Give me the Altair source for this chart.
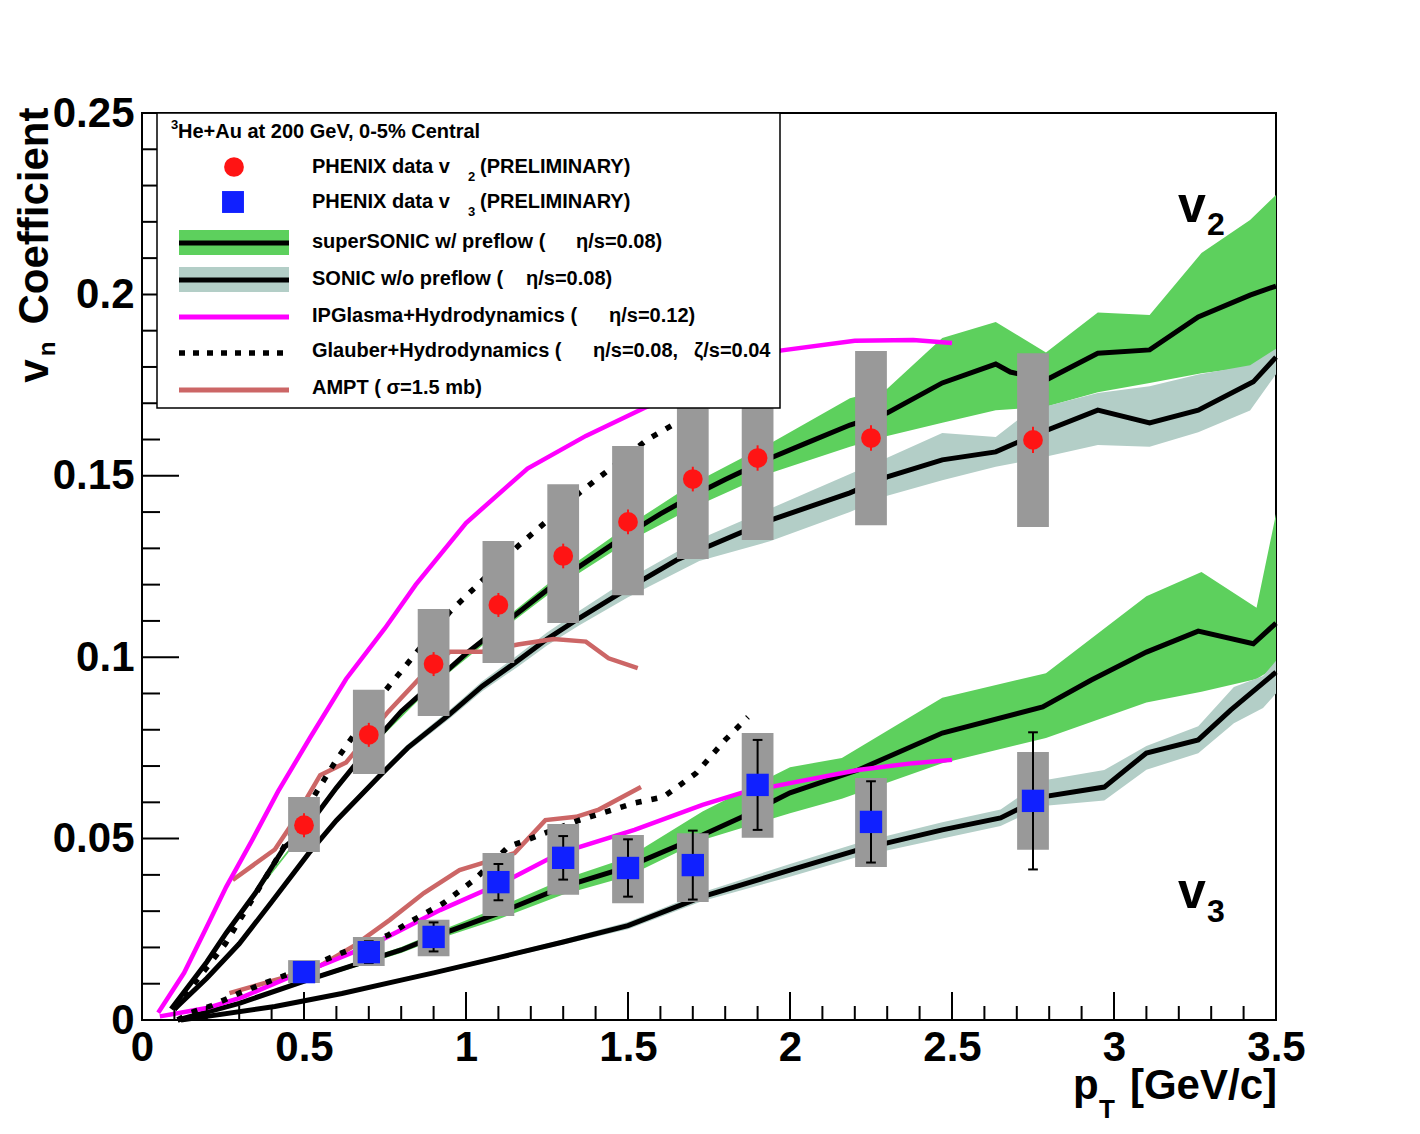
import altair as alt
import pandas as pd

# ---------------- data ----------------
pt_data = [0.5, 0.7, 0.9, 1.1, 1.3, 1.5, 1.7, 1.9, 2.25, 2.75]

v2_val = [0.0537, 0.0786, 0.0981, 0.1144, 0.1279, 0.1373, 0.1491, 0.1549, 0.1604, 0.1599]
v2_stat = [0.0033, 0.0033, 0.0033, 0.0033, 0.0034, 0.0034, 0.0034, 0.0035, 0.0035, 0.0036]
v2_sys_lo = [0.0463, 0.0678, 0.0838, 0.0984, 0.1094, 0.1171, 0.1271, 0.1323, 0.1364, 0.1359]
v2_sys_hi = [0.0615, 0.0910, 0.1133, 0.1320, 0.1477, 0.1582, 0.1710, 0.1775, 0.1844, 0.1838]

v3_val = [0.0132, 0.0187, 0.0229, 0.0380, 0.0447, 0.0419, 0.0427, 0.0648, 0.0546, 0.0604]
v3_stat = [0.0020, 0.0030, 0.0040, 0.0050, 0.0060, 0.0079, 0.0095, 0.0124, 0.0112, 0.0189]
v3_sys_lo = [0.0102, 0.0149, 0.0176, 0.0287, 0.0345, 0.0322, 0.0325, 0.0502, 0.0422, 0.0469]
v3_sys_hi = [0.0165, 0.0229, 0.0276, 0.0460, 0.0540, 0.0510, 0.0515, 0.0791, 0.0667, 0.0739]

# superSONIC w/ preflow, v2
ss2_pt = [0.09, 0.2, 0.26, 0.35, 0.44, 0.5, 0.6, 0.7, 0.8, 0.9, 1.0, 1.1, 1.2, 1.3, 1.4, 1.5,
          1.6, 1.7, 1.8, 1.94, 2.05, 2.185, 2.3, 2.47, 2.635, 2.68, 2.79, 2.95, 3.11, 3.26, 3.42, 3.5]
ss2_val = [0.003, 0.016, 0.024, 0.035, 0.0477, 0.052, 0.064, 0.075, 0.085, 0.093, 0.101, 0.108,
           0.115, 0.122, 0.128, 0.134, 0.1395, 0.1445, 0.149, 0.1549, 0.159, 0.164, 0.1673, 0.1756,
           0.1808, 0.1786, 0.1764, 0.1838, 0.1847, 0.1938, 0.1998, 0.2023]
ss2_band_pt = [0.09, 0.2, 0.35, 0.5, 0.7, 0.9, 1.1, 1.3, 1.5, 1.7, 1.94, 2.185, 2.3, 2.47, 2.635,
               2.79, 2.95, 3.11, 3.27, 3.42, 3.5]
ss2_hi = [0.003, 0.0163, 0.0354, 0.0524, 0.0755, 0.0937, 0.1092, 0.1236, 0.1362, 0.1478, 0.159,
          0.1714, 0.174, 0.188, 0.1924, 0.184, 0.195, 0.1943, 0.2114, 0.2205, 0.2274]
ss2_lo = [0.003, 0.0157, 0.0346, 0.0516, 0.0745, 0.0923, 0.1068, 0.1204, 0.1318, 0.1412, 0.1508,
          0.158, 0.161, 0.1646, 0.1681, 0.169, 0.173, 0.1756, 0.1783, 0.180, 0.1814]

# SONIC w/o preflow, v2
s2_pt = [0.1, 0.2, 0.3, 0.4, 0.515, 0.6, 0.73, 0.82, 0.95, 1.05, 1.16, 1.25, 1.35, 1.5, 1.65,
         1.72, 1.94, 2.185, 2.3, 2.47, 2.635, 2.74, 2.95, 3.11, 3.26, 3.43, 3.5]
s2_val = [0.003, 0.0115, 0.021, 0.0325, 0.046, 0.055, 0.067, 0.075, 0.0843, 0.092, 0.099, 0.105,
          0.1108, 0.119, 0.1268, 0.1295, 0.1378, 0.1453, 0.1497, 0.1544, 0.1566, 0.1607, 0.1681,
          0.1646, 0.1681, 0.1759, 0.1827]
s2_band_pt = [0.1, 0.2, 0.3, 0.4, 0.515, 0.6, 0.73, 0.82, 0.95, 1.05, 1.16, 1.25, 1.35, 1.5, 1.72,
              1.94, 2.185, 2.3, 2.47, 2.635, 2.74, 2.95, 3.11, 3.26, 3.42, 3.5]
s2_hi = [0.003, 0.0118, 0.0214, 0.033, 0.0466, 0.0557, 0.0679, 0.076, 0.0855, 0.0934, 0.1006,
         0.1068, 0.1128, 0.1215, 0.1325, 0.141, 0.1505, 0.155, 0.1618, 0.1607, 0.168, 0.1728,
         0.1747, 0.1779, 0.1805, 0.1850]
s2_lo = [0.003, 0.0112, 0.0206, 0.032, 0.0454, 0.0543, 0.0661, 0.074, 0.0831, 0.0906, 0.0974,
         0.1032, 0.1088, 0.1165, 0.1265, 0.132, 0.140, 0.1445, 0.1488, 0.1525, 0.1543, 0.1585,
         0.158, 0.162, 0.168, 0.178]

# superSONIC w/ preflow, v3
ss3_pt = [0.11, 0.3, 0.51, 0.8, 0.9, 1.1, 1.3, 1.5, 1.73, 1.85, 2.0, 2.21, 2.47, 2.78, 2.93,
          3.1, 3.26, 3.43, 3.5]
ss3_val = [0.0, 0.0046, 0.011, 0.0193, 0.0229, 0.0294, 0.0367, 0.0422, 0.051, 0.0559, 0.0626,
           0.0689, 0.0791, 0.0863, 0.0937, 0.1014, 0.1072, 0.1037, 0.1094]
ss3_band_pt = [0.11, 0.3, 0.51, 0.8, 0.9, 1.1, 1.3, 1.5, 1.73, 2.0, 2.16, 2.47, 2.79, 3.1, 3.27,
               3.44, 3.5]
ss3_hi = [0.0, 0.0048, 0.0115, 0.0201, 0.0239, 0.031, 0.0388, 0.0448, 0.0575, 0.0697, 0.0722,
          0.0888, 0.0956, 0.1168, 0.1235, 0.1136, 0.1395]
ss3_lo = [0.0, 0.0044, 0.0105, 0.0185, 0.0219, 0.0278, 0.0346, 0.0396, 0.0496, 0.057, 0.061,
          0.0708, 0.0777, 0.0875, 0.0905, 0.094, 0.0973]

# SONIC w/o preflow, v3
s3_pt = [0.12, 0.2, 0.41, 0.617, 0.8, 0.9, 1.1, 1.3, 1.5, 1.73, 2.0, 2.21, 2.47, 2.65, 2.78,
         2.97, 3.1, 3.26, 3.36, 3.5]
s3_val = [0.0, 0.001, 0.0037, 0.0073, 0.011, 0.013, 0.0172, 0.0215, 0.026, 0.034, 0.0413, 0.0469,
          0.0524, 0.0557, 0.0615, 0.0642, 0.0736, 0.0772, 0.0854, 0.0959]
s3_band_pt = [0.12, 0.2, 0.41, 0.617, 0.8, 0.9, 1.1, 1.3, 1.5, 1.73, 2.0, 2.21, 2.47, 2.65, 2.78,
              2.97, 3.1, 3.26, 3.37, 3.46, 3.5]
s3_hi = [0.0, 0.0011, 0.0039, 0.0076, 0.0114, 0.0135, 0.0178, 0.0222, 0.0270, 0.0352, 0.043,
         0.0488, 0.0545, 0.058, 0.066, 0.0689, 0.0755, 0.081, 0.0918, 0.0948, 0.099]
s3_lo = [0.0, 0.0009, 0.0035, 0.0070, 0.0106, 0.0125, 0.0166, 0.0208, 0.0250, 0.0328, 0.0395,
         0.045, 0.050, 0.0535, 0.059, 0.0605, 0.069, 0.0735, 0.0818, 0.086, 0.090]

# IPGlasma + Hydrodynamics
ip2_pt = [0.05, 0.13, 0.2, 0.26, 0.34, 0.42, 0.52, 0.63, 0.75, 0.845, 1.0, 1.19, 1.37, 1.55,
          1.75, 1.97, 2.2, 2.38, 2.5]
ip2_val = [0.002, 0.013, 0.0257, 0.0367, 0.0496, 0.063, 0.078, 0.094, 0.108, 0.12, 0.137, 0.152,
           0.161, 0.1687, 0.176, 0.1845, 0.1872, 0.1874, 0.1866]
ip3_pt = [0.055, 0.2, 0.31, 0.45, 0.57, 0.72, 0.92, 1.13, 1.29, 1.52, 1.73, 1.85, 2.0, 2.21,
          2.38, 2.5]
ip3_val = [0.001, 0.0033, 0.0063, 0.0116, 0.0157, 0.0212, 0.0303, 0.0386, 0.046, 0.0524, 0.0593,
           0.0626, 0.0653, 0.0689, 0.0708, 0.0717]

# Glauber + Hydrodynamics
gl2_pt = [0.1, 0.257, 0.4, 0.54, 0.6, 0.75, 0.95, 1.16, 1.35, 1.56, 1.65, 1.87]
gl2_val = [0.003, 0.021, 0.042, 0.063, 0.0717, 0.0907, 0.1125, 0.1306, 0.1453, 0.160, 0.1646, 0.175]
gl3_pt = [0.11, 0.15, 0.216, 0.3, 0.38, 0.55, 0.617, 0.76, 0.82, 0.93, 1.025, 1.13, 1.35, 1.52,
          1.61, 1.71, 1.8, 1.87]
gl3_val = [0.0, 0.002, 0.004, 0.0074, 0.0102, 0.016, 0.0185, 0.0234, 0.0267, 0.0322, 0.0386,
           0.0477, 0.0551, 0.0598, 0.0615, 0.068, 0.0772, 0.0835]

# AMPT
am2_pt = [0.28, 0.41, 0.455, 0.55, 0.63, 0.76, 0.855, 0.95, 1.05, 1.16, 1.27, 1.37, 1.44, 1.53]
am2_val = [0.0386, 0.047, 0.053, 0.0675, 0.071, 0.085, 0.094, 0.1015, 0.1015, 0.1035, 0.105,
           0.1043, 0.0997, 0.097]
am3_pt = [0.27, 0.34, 0.45, 0.55, 0.655, 0.765, 0.87, 0.98, 1.03, 1.15, 1.245, 1.34, 1.41, 1.54]
am3_val = [0.0074, 0.0092, 0.012, 0.015, 0.0205, 0.0276, 0.035, 0.0413, 0.0427, 0.046, 0.0551,
           0.056, 0.058, 0.0642]

x_major = [0, 0.5, 1, 1.5, 2, 2.5, 3, 3.5]
y_major = [0, 0.05, 0.1, 0.15, 0.2, 0.25]

# ---------------- styling ----------------
FONT = "Liberation Sans"
W, H = 1134, 907
GREEN = "#5dd05d"
SONICC = "#b3cec7"
GREY = "#999999"
RED = "#ff1414"
BLUE = "#1020ff"
MAG = "#ff00ff"
AMPTC = "#cc6666"
BOX_HW = 0.049
CAP_HW = 0.015

xscale = alt.Scale(domain=[0, 3.5], nice=False, zero=False)
yscale = alt.Scale(domain=[0, 0.25], nice=False, zero=False)
xaxis = alt.Axis(values=x_major, format="~g", ticks=False, domain=False, grid=False, title=None,
                 labelFontSize=42, labelFont=FONT, labelFontWeight="bold", labelColor="black",
                 labelPadding=7, labelFlush=False, labelOverlap=False)
yaxis = alt.Axis(values=y_major, format="~g", ticks=False, domain=False, grid=False, title=None,
                 labelFontSize=42, labelFont=FONT, labelFontWeight="bold", labelColor="black",
                 labelPadding=8, labelFlush=False, labelOverlap=False)


def X(f):
    return alt.X(f, type="quantitative", scale=xscale, axis=xaxis)


def Y(f):
    return alt.Y(f, type="quantitative", scale=yscale, axis=yaxis)


def curve(pt, val, name):
    return pd.DataFrame({"pt": pt, "v": val, "c": name})


def band(pt, lo, hi, name):
    return pd.DataFrame({"pt": pt, "lo": lo, "hi": hi, "c": name})


# ---------------- data layers ----------------
green_bands = pd.concat([band(ss2_band_pt, ss2_lo, ss2_hi, "v2"), band(ss3_band_pt, ss3_lo, ss3_hi, "v3")])
sonic_bands = pd.concat([band(s2_band_pt, s2_lo, s2_hi, "v2"), band(s3_band_pt, s3_lo, s3_hi, "v3")])
black_lines = pd.concat([curve(ss2_pt, ss2_val, "ss2"), curve(ss3_pt, ss3_val, "ss3"),
                         curve(s2_pt, s2_val, "s2"), curve(s3_pt, s3_val, "s3")])
mag_lines = pd.concat([curve(ip2_pt, ip2_val, "ip2"), curve(ip3_pt, ip3_val, "ip3")])
dot_lines = pd.concat([curve(gl2_pt, gl2_val, "gl2"), curve(gl3_pt, gl3_val, "gl3")])
ampt_lines = pd.concat([curve(am2_pt, am2_val, "am2"), curve(am3_pt, am3_val, "am3")])

pts = pd.DataFrame({"pt": pt_data + pt_data,
                    "v": v2_val + v3_val,
                    "stat": v2_stat + v3_stat,
                    "slo": v2_sys_lo + v3_sys_lo,
                    "shi": v2_sys_hi + v3_sys_hi,
                    "n": ["v2"] * len(pt_data) + ["v3"] * len(pt_data)})
pts["x1"] = pts["pt"] - BOX_HW
pts["x2"] = pts["pt"] + BOX_HW
pts["c1"] = pts["pt"] - CAP_HW
pts["c2"] = pts["pt"] + CAP_HW
pts["elo"] = pts["v"] - pts["stat"]
pts["ehi"] = pts["v"] + pts["stat"]
v2pts = pts[pts["n"] == "v2"]
v3pts = pts[pts["n"] == "v3"]

layers = []
layers.append(alt.Chart(green_bands).mark_area(color=GREEN, opacity=1).encode(
    x=X("pt"), y=Y("lo"), y2="hi", detail="c:N"))
layers.append(alt.Chart(sonic_bands).mark_area(color=SONICC, opacity=1).encode(
    x=X("pt"), y=Y("lo"), y2="hi", detail="c:N"))
layers.append(alt.Chart(black_lines).mark_line(color="black", strokeWidth=5).encode(
    x=X("pt"), y=Y("v"), detail="c:N"))
layers.append(alt.Chart(ampt_lines).mark_line(color=AMPTC, strokeWidth=4.5).encode(
    x=X("pt"), y=Y("v"), detail="c:N"))
layers.append(alt.Chart(mag_lines).mark_line(color=MAG, strokeWidth=4.5).encode(
    x=X("pt"), y=Y("v"), detail="c:N"))
layers.append(alt.Chart(dot_lines).mark_line(color="black", strokeWidth=5.5, strokeDash=[6, 10]).encode(
    x=X("pt"), y=Y("v"), detail="c:N"))
# systematic boxes
layers.append(alt.Chart(pts).mark_rect(color=GREY, opacity=1).encode(
    x=X("x1"), x2="x2", y=Y("slo"), y2="shi"))
# statistical error bars
layers.append(alt.Chart(v2pts).mark_rule(color=RED, strokeWidth=2).encode(
    x=X("pt"), y=Y("elo"), y2="ehi"))
layers.append(alt.Chart(v3pts).mark_rule(color="black", strokeWidth=2).encode(
    x=X("pt"), y=Y("elo"), y2="ehi"))
layers.append(alt.Chart(v3pts).mark_rule(color="black", strokeWidth=2).encode(
    x=X("c1"), x2="c2", y=Y("elo")))
layers.append(alt.Chart(v3pts).mark_rule(color="black", strokeWidth=2).encode(
    x=X("c1"), x2="c2", y=Y("ehi")))
# markers
layers.append(alt.Chart(v2pts).mark_point(shape="circle", filled=True, size=390, color=RED,
                                          opacity=1, strokeWidth=0).encode(x=X("pt"), y=Y("v")))
layers.append(alt.Chart(v3pts).mark_point(shape="square", filled=True, size=500, color=BLUE,
                                          opacity=1, strokeWidth=0).encode(x=X("pt"), y=Y("v")))

# inward axis ticks
x_minor = [round(i * 0.1, 1) for i in range(36) if i % 5 != 0]
y_minor = [round(i * 0.01, 2) for i in range(26) if i % 5 != 0]
layers.append(alt.Chart(pd.DataFrame({"t": x_major})).mark_rule(color="black", strokeWidth=2).encode(
    x=X("t"), y=alt.value(H), y2=alt.value(H - 28)))
layers.append(alt.Chart(pd.DataFrame({"t": x_minor})).mark_rule(color="black", strokeWidth=2).encode(
    x=X("t"), y=alt.value(H), y2=alt.value(H - 14)))
layers.append(alt.Chart(pd.DataFrame({"t": y_major})).mark_rule(color="black", strokeWidth=2).encode(
    y=Y("t"), x=alt.value(0), x2=alt.value(37)))
layers.append(alt.Chart(pd.DataFrame({"t": y_minor})).mark_rule(color="black", strokeWidth=2).encode(
    y=Y("t"), x=alt.value(0), x2=alt.value(18)))

# ---------------- legend & annotations ----------------
one = alt.Data(values=[{"k": 0}])


def txt(s, x, y, size=20, angle=None, align="left", baseline="alphabetic"):
    kw = dict(text=s, fontSize=size, font=FONT, fontWeight="bold", align=align,
              baseline=baseline, color="black")
    if angle is not None:
        kw["angle"] = angle
    return alt.Chart(one).mark_text(**kw).encode(x=alt.value(x), y=alt.value(y))


def hline(x1, x2, y, color, width, dash=None):
    kw = dict(color=color, strokeWidth=width)
    if dash:
        kw["strokeDash"] = dash
    return alt.Chart(one).mark_rule(**kw).encode(x=alt.value(x1), x2=alt.value(x2), y=alt.value(y))


def box(x1, x2, y1, y2, fill, stroke=None, sw=0):
    kw = dict(fill=fill, opacity=1)
    if stroke:
        kw.update(stroke=stroke, strokeWidth=sw)
    return alt.Chart(one).mark_rect(**kw).encode(
        x=alt.value(x1), x2=alt.value(x2), y=alt.value(y1), y2=alt.value(y2))


layers.append(box(15, 638, 0, 295, "white", "black", 1.5))
layers.append(txt("3", 29, 16, size=13))
layers.append(txt("He+Au at 200 GeV, 0-5% Central", 36, 25, size=20))
layers.append(alt.Chart(one).mark_point(shape="circle", filled=True, size=390, color=RED, opacity=1,
                                        strokeWidth=0).encode(x=alt.value(92), y=alt.value(54)))
layers.append(txt("PHENIX data v", 170, 60))
layers.append(txt("2", 326, 68, size=13))
layers.append(txt("(PRELIMINARY)", 338, 60))
layers.append(alt.Chart(one).mark_point(shape="square", filled=True, size=480, color=BLUE, opacity=1,
                                        strokeWidth=0).encode(x=alt.value(91), y=alt.value(89)))
layers.append(txt("PHENIX data v", 170, 95))
layers.append(txt("3", 326, 103, size=13))
layers.append(txt("(PRELIMINARY)", 338, 95))
layers.append(box(37, 147, 117, 142, GREEN))
layers.append(hline(37, 147, 130, "black", 5))
layers.append(txt("superSONIC w/ preflow (", 170, 135))
layers.append(txt("\u03b7/s=0.08)", 434, 135))
layers.append(box(37, 147, 154, 179, SONICC))
layers.append(hline(37, 147, 167, "black", 5))
layers.append(txt("SONIC w/o preflow (", 170, 172))
layers.append(txt("\u03b7/s=0.08)", 384, 172))
layers.append(hline(37, 147, 204, MAG, 5))
layers.append(txt("IPGlasma+Hydrodynamics (", 170, 209))
layers.append(txt("\u03b7/s=0.12)", 467, 209))
layers.append(hline(37, 147, 240, "black", 5.5, [6, 8]))
layers.append(txt("Glauber+Hydrodynamics (", 170, 244))
layers.append(txt("\u03b7/s=0.08,", 451, 244))
layers.append(txt("\u03b6/s=0.04", 552, 244))
layers.append(hline(37, 147, 277, AMPTC, 5))
layers.append(txt("AMPT ( \u03c3=1.5 mb)", 170, 281))

# v2 / v3 labels
layers.append(txt("v", 1036, 109, size=50))
layers.append(txt("2", 1065, 122, size=32))
layers.append(txt("v", 1036, 795, size=50))
layers.append(txt("3", 1065, 809, size=32))

# axis titles
layers.append(txt("p", 931, 986, size=42))
layers.append(txt("T", 957, 1005, size=26))
layers.append(txt("[GeV/c]", 1135, 986, size=42, align="right"))
layers.append(txt("Coefficient", -94, 103, size=42, angle=270, align="center"))
layers.append(txt("v", -94, 258, size=42, angle=270, align="center"))
layers.append(txt("n", -87, 236, size=24, angle=270, align="center"))

chart = alt.layer(*layers).properties(
    width=W, height=H,
    autosize=alt.AutoSizeParams(type="none"),
    padding={"left": 134, "top": 105, "right": 130, "bottom": 104},
    background="white",
).configure_view(stroke="black", strokeWidth=2)

chart.save("out.html", embed_options={"renderer": "svg", "actions": False})
